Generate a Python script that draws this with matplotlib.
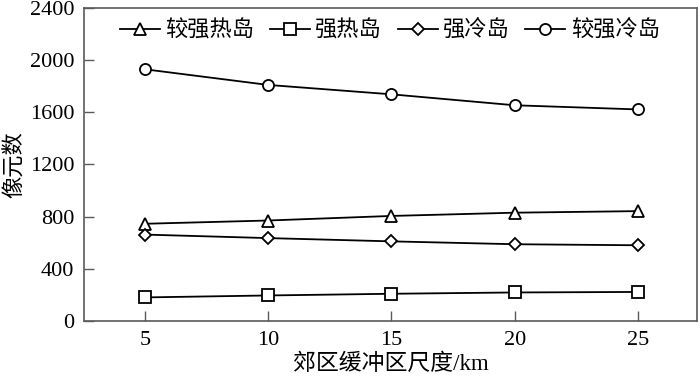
import matplotlib.pyplot as plt

plt.rcParams['font.family'] = ['Liberation Serif', 'Noto Sans CJK SC']
plt.rcParams['font.size'] = 16

# data
buffer_km = [5, 10, 15, 20, 25]
strong_heat = [745, 770, 805, 830, 842]      # 较强热岛
heat = [180, 195, 208, 218, 222]             # 强热岛
cold = [662, 635, 610, 588, 580]             # 强冷岛
strong_cold = [1930, 1810, 1738, 1654, 1622]  # 较强冷岛
yticks = [0, 400, 800, 1200, 1600, 2000, 2400]

axis_color = '#5a5a5a'

fig = plt.figure(figsize=(7, 3.82), dpi=100)
ax = fig.add_axes([0.12, 0.16, 0.876, 0.819])

style = dict(color='black', linewidth=1.3, markerfacecolor='white',
             markeredgewidth=1.3)
ax.plot(buffer_km, strong_heat, marker='^', markersize=9, label='较强热岛', **style)
ax.plot(buffer_km, heat, marker='s', markersize=8, label='强热岛', **style)
ax.plot(buffer_km, cold, marker='D', markersize=6.5, label='强冷岛', **style)
ax.plot(buffer_km, strong_cold, marker='o', markersize=8, label='较强冷岛', **style)

ax.set_xlim(2.53, 27.4)
ax.set_ylim(0, 2400)
ax.set_xticks(buffer_km)
ax.set_yticks(yticks)
ax.tick_params(direction='in', length=7, color=axis_color, width=1, pad=7)
for sp in ax.spines.values():
    sp.set_color(axis_color)
    sp.set_linewidth(1.2)

ax.set_xlabel('郊区缓冲区尺度/km', labelpad=3, fontsize=16.5)
ax.set_ylabel('像元数')
ax.yaxis.set_label_coords(-0.094, 0.5)

ax.legend(loc='center left', bbox_to_anchor=(0.058, 0.925), ncol=4,
          frameon=False, handlelength=1.8, handletextpad=0.25,
          columnspacing=0.7, borderaxespad=0, borderpad=0)

fig.savefig('out.png', dpi=100)
